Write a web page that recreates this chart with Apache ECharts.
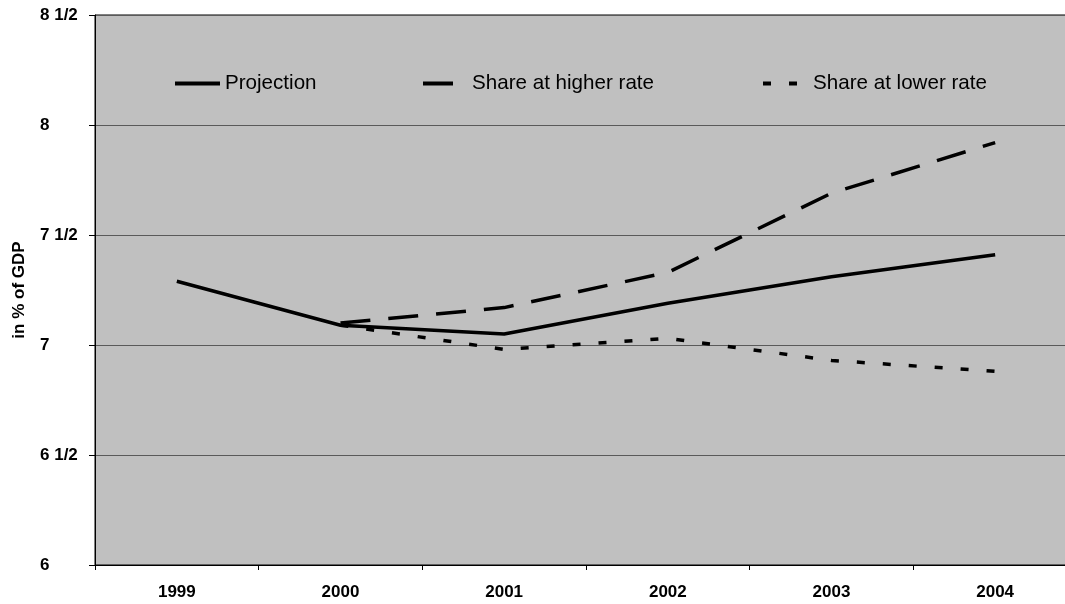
<!DOCTYPE html>
<html>
<head>
<meta charset="utf-8">
<script src="https://cdn.jsdelivr.net/npm/echarts@6/dist/echarts.min.js"></script>
<style>
  html, body { margin: 0; padding: 0; background: #ffffff; overflow: hidden; }
  /* the plot frame runs a little past the right edge of the window */
  #chart { width: 1085px; height: 604px; }
</style>
</head>
<body>
<div id="chart"></div>
<script>
// Years on the horizontal axis
const years = ['1999', '2000', '2001', '2002', '2003', '2004'];

// Spending share, in % of GDP
const projection = [7.29, 7.09, 7.05, 7.19, 7.31, 7.41];
const higherRate = [null, 7.10, 7.17, 7.33, 7.69, 7.92];
const lowerRate  = [null, 7.09, 6.98, 7.03, 6.93, 6.88];

// Vertical axis tick labels, from 6 upward in steps of 1/2
const yTickLabels = ['6', '6 1/2', '7', '7 1/2', '8', '8 1/2'];

const seriesNames = ['Projection', 'Share at higher rate', 'Share at lower rate'];

const FONT = '"Liberation Sans", Arial, Helvetica, sans-serif';

const chart = echarts.init(document.getElementById('chart'), null, { renderer: 'canvas' });

const legendText = { fontFamily: FONT, fontSize: 20.6, color: '#000' };

function legendFor(name, left, width, icon, gap) {
  return {
    orient: 'horizontal',
    left: left,
    top: 73,
    itemWidth: width,
    itemHeight: 4,
    padding: 0,
    selectedMode: false,
    data: [{ name: name, icon: icon }],
    textStyle: Object.assign({}, legendText, { padding: [0, 0, 0, gap] })
  };
}

chart.setOption({
  animation: false,
  backgroundColor: '#ffffff',
  grid: {
    left: 95,
    top: 15,
    width: 982,
    height: 550,
    show: true,
    backgroundColor: '#c0c0c0',
    borderColor: '#000000',
    borderWidth: 1
  },
  legend: [
    legendFor(seriesNames[0], 175, 45, 'path://M0,0H45V4H0Z', 0),
    legendFor(seriesNames[1], 423, 30, 'path://M0,0H30V4H0Z', 14),
    legendFor(seriesNames[2], 763, 34, 'path://M0,0H8V4H0Z M26,0H34V4H26Z', 11)
  ],
  xAxis: {
    type: 'category',
    data: years,
    boundaryGap: true,
    axisLine: { show: true, lineStyle: { color: '#000', width: 1 } },
    axisTick: { show: true, length: 5, lineStyle: { color: '#000' } },
    axisLabel: {
      fontFamily: FONT, fontSize: 17, fontWeight: 'bold', color: '#000', margin: 19
    },
    splitLine: { show: false }
  },
  yAxis: {
    type: 'value',
    min: 6,
    max: 8.5,
    interval: 0.5,
    name: 'in % of GDP',
    nameLocation: 'middle',
    nameRotate: 90,
    nameGap: 67,
    nameTextStyle: { fontFamily: FONT, fontSize: 17, fontWeight: 'bold', color: '#000' },
    axisLine: { show: true, lineStyle: { color: '#000', width: 1 } },
    axisTick: { show: true, length: 6, lineStyle: { color: '#000' } },
    axisLabel: {
      fontFamily: FONT, fontSize: 17, fontWeight: 'bold', color: '#000',
      align: 'left', margin: 55,
      formatter: function (v) {
        const i = Math.round((v - 6) / 0.5);
        return yTickLabels[i] !== undefined ? yTickLabels[i] : '';
      }
    },
    splitLine: { show: true, lineStyle: { color: '#5a5a5a', width: 1 } }
  },
  series: [
    {
      name: seriesNames[0],
      type: 'line',
      data: projection,
      symbol: 'none',
      z: 3,
      lineStyle: { color: '#000', width: 3.5, type: 'solid' },
      itemStyle: { color: '#000' }
    },
    {
      name: seriesNames[1],
      type: 'line',
      data: higherRate,
      symbol: 'none',
      z: 2,
      lineStyle: { color: '#000', width: 3.5, type: [30, 18] },
      itemStyle: { color: '#000' }
    },
    {
      name: seriesNames[2],
      type: 'line',
      data: lowerRate,
      symbol: 'none',
      z: 2,
      lineStyle: { color: '#000', width: 3.5, type: [8, 18] },
      itemStyle: { color: '#000' }
    }
  ]
});
</script>
</body>
</html>
